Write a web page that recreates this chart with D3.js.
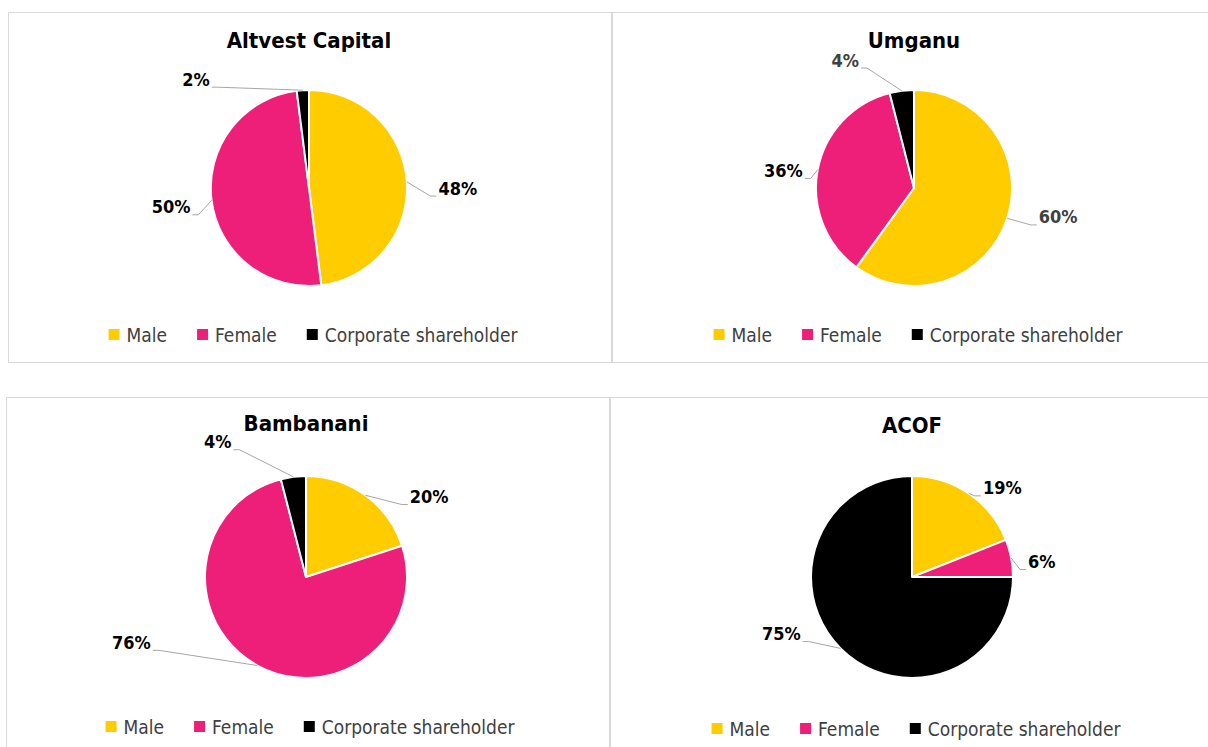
<!DOCTYPE html>
<html>
<head>
<meta charset="utf-8">
<script src="https://cdn.jsdelivr.net/npm/d3@7"></script>
<style>
  body { margin: 0; background: #fff; }
  svg { display: block; }
  text { font-family: "Liberation Sans Narrow", "DejaVu Sans Condensed", "DejaVu Sans", Roboto, sans-serif; }
</style>
</head>
<body>
<svg id="chart" width="1208" height="747"></svg>
<script>
// data
const titles = ["Altvest Capital", "Umganu", "Bambanani", "ACOF"];
const categories = ["Male", "Female", "Corporate shareholder"];
const male = [48, 60, 20, 19];
const female = [50, 36, 76, 6];
const corporate = [2, 4, 4, 75];

const colors = ["#FFCC00", "#EE1F78", "#000000"];

// layout of the four panels
const panels = [
  {x: 8, y: 12, w: 603, h: 350, cx: 309, cy: 188, r: 98, titleY: 48, legendY: 335},
  {x: 612, y: 12, w: 600, h: 350, cx: 914, cy: 188, r: 98, titleY: 48, legendY: 335},
  {x: 6, y: 397, w: 603, h: 360, cx: 306, cy: 577, r: 101, titleY: 431, legendY: 727},
  {x: 610, y: 397, w: 600, h: 360, cx: 912, cy: 577, r: 101, titleY: 433, legendY: 729}
];

// label nudges (px) from the default spot at 1.45r along the slice middle
const nudges = [
  [[7, 9], [3, 1], [-104, 33]],
  [[9, -15], [9, 9], [-51, 13]],
  [[37, 38], [-104, -63], [-70, 10]],
  [[8, 32], [-14, 12], [-27, -47]]
];
// Umganu had some grey labels
const labelColors = [
  ["#000", "#000", "#000"],
  ["#404040", "#000", "#404040"],
  ["#000", "#000", "#000"],
  ["#000", "#000", "#000"]
];

const svg = d3.select("#chart");

const pie = d3.pie().sort(null).value(d => d.value);

titles.forEach((title, i) => {
  const p = panels[i];
  const values = [male[i], female[i], corporate[i]].map((v, j) => ({cat: categories[j], value: v, j: j}));
  const arcs = pie(values);
  const arc = d3.arc().innerRadius(0).outerRadius(p.r);

  const g = svg.append("g");

  g.append("rect")
    .attr("x", p.x + 0.5).attr("y", p.y + 0.5)
    .attr("width", p.w).attr("height", p.h)
    .attr("fill", "#fff")
    .attr("stroke", "#d9d9d9")
    .attr("stroke-width", 1);

  g.append("text")
    .text(title)
    .attr("x", p.cx).attr("y", p.titleY)
    .attr("text-anchor", "middle")
    .attr("font-size", 22)
    .attr("font-weight", "bold")
    .attr("fill", "#000");

  const pieG = g.append("g").attr("transform", "translate(" + [p.cx, p.cy] + ")");

  pieG.selectAll("path").data(arcs).enter().append("path")
    .attr("d", arc)
    .attr("fill", d => colors[d.data.j])
    .attr("stroke", "#fff")
    .attr("stroke-width", 2)
    .attr("stroke-linejoin", "round");

  // labels + leader lines
  arcs.forEach((d, j) => {
    const mid = (d.startAngle + d.endAngle) / 2;
    const R = p.r * 1.45;
    const lx = Math.sin(mid) * R + nudges[i][j][0];
    const ly = -Math.cos(mid) * R + nudges[i][j][1];

    const t = pieG.append("text")
      .text(d.data.value + "%")
      .attr("x", lx).attr("y", ly)
      .attr("text-anchor", "middle")
      .attr("dominant-baseline", "central")
      .attr("font-size", 18)
      .attr("font-weight", "bold")
      .attr("fill", labelColors[i][j]);

    const bb = t.node().getBBox();
    const right = lx > 0;
    const ex = right ? bb.x - 2 : bb.x + bb.width + 2;
    const ey = ly + 8;
    const hx = right ? ex - 6 : ex + 6;

    // leader starts at the middle of the slice's arc
    const sx = Math.sin(mid) * p.r;
    const sy = -Math.cos(mid) * p.r;

    pieG.append("polyline")
      .attr("points", [[sx, sy], [hx, ey], [ex, ey]].map(q => q.join(",")).join(" "))
      .attr("fill", "none")
      .attr("stroke", "#a6a6a6")
      .attr("stroke-width", 1);
  });

  // legend
  const leg = g.append("g");
  let cursor = 0;
  categories.forEach((c, j) => {
    const item = leg.append("g").attr("transform", "translate(" + cursor + ",0)");
    item.append("rect")
      .attr("x", 0).attr("y", -6)
      .attr("width", 11).attr("height", 11)
      .attr("fill", colors[j]);
    const tx = item.append("text")
      .text(c)
      .attr("x", 18).attr("y", 0)
      .attr("dominant-baseline", "central")
      .attr("font-size", 19)
      .attr("fill", "#404040");
    cursor += 18 + tx.node().getComputedTextLength() + 30;
  });
  const legW = cursor - 30;
  leg.attr("transform", "translate(" + [p.cx + 4 - legW / 2, p.legendY] + ")");
});
</script>
</body>
</html>
